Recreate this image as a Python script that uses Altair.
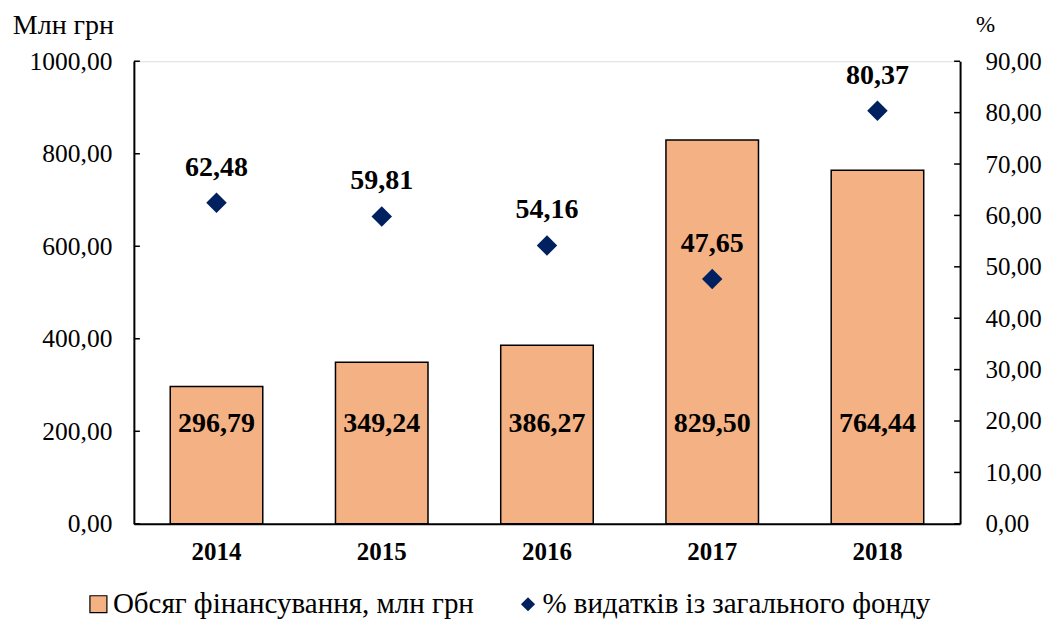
import altair as alt
import pandas as pd

years = ["2014", "2015", "2016", "2017", "2018"]
funding = [296.79, 349.24, 386.27, 829.50, 764.44]
share = [62.48, 59.81, 54.16, 47.65, 80.37]
left_ticks = [0, 200, 400, 600, 800, 1000]
right_ticks = [0, 10, 20, 30, 40, 50, 60, 70, 80, 90]

bar_name = "Обсяг фінансування, млн грн"
pt_name = "% видатків із загального фонду"

df = pd.DataFrame({"year": years, "funding": funding, "share": share,
                   "s1": [bar_name] * 5, "s2": [pt_name] * 5})
df_lt = pd.DataFrame({"v": left_ticks})
df_rt = pd.DataFrame({"v": right_ticks})

FONT = "Times New Roman, Liberation Serif, DejaVu Serif, serif"
W, H = 827, 463
fmt = "replace(format(datum.value, '.2f'), '.', ',')"

x = alt.X("year:N", title=None,
          scale=alt.Scale(paddingInner=0.44, paddingOuter=0.22),
          axis=alt.Axis(labelAngle=0, labelFont=FONT, labelFontSize=25, labelFontWeight="bold",
                        labelColor="black", labelPadding=16, ticks=False,
                        domainColor="black", domainWidth=2))

yl_scale = alt.Scale(domain=[0, 1000], nice=False)
yr_scale = alt.Scale(domain=[0, 90], nice=False)

bars = alt.Chart(df).mark_bar(stroke="black", strokeWidth=1.5).encode(
    x=x,
    y=alt.Y("funding:Q", scale=yl_scale,
            axis=alt.Axis(title="Млн грн", titleAngle=0, titleX=-71, titleY=-28,
                          titleAlign="center", titleBaseline="alphabetic",
                          titleFont=FONT, titleFontSize=28, titleFontWeight="normal",
                          titleColor="black", values=left_ticks, labelExpr=fmt,
                          labelFont=FONT, labelFontSize=25.5, labelColor="black",
                          labelPadding=22, ticks=False, grid=False,
                          domainColor="black", domainWidth=2)),
    color=alt.Color("s1:N", scale=alt.Scale(domain=[bar_name], range=["#F4B183"]),
                    legend=alt.Legend(title=None, orient="none", legendX=-50, legendY=529,
                                      labelFont=FONT, labelFontSize=29, labelColor="black",
                                      labelLimit=0,
                                      symbolType="square", symbolSize=289,
                                      symbolStrokeColor="black", symbolStrokeWidth=1.2,
                                      labelOffset=0))
)

bar_text = alt.Chart(df).mark_text(font=FONT, fontSize=28, fontWeight="bold", color="black").encode(
    x=alt.X("year:N"),
    y=alt.datum(215),
    text=alt.Text("funding_lbl:N")
).transform_calculate(funding_lbl="replace(format(datum.funding, '.2f'), '.', ',')")

lt = alt.Chart(df_lt).mark_rule(color="black", strokeWidth=1.5).encode(
    y=alt.Y("v:Q"), x=alt.value(0), x2=alt.value(6))

left = alt.layer(bars, bar_text, lt)

points = alt.Chart(df).mark_point(shape="diamond", filled=True, size=420, opacity=1).encode(
    x=alt.X("year:N"),
    y=alt.Y("share:Q", scale=yr_scale,
            axis=alt.Axis(orient="right", title="%", titleAngle=0, titleX=25, titleY=-30,
                          titleAlign="center", titleBaseline="alphabetic",
                          titleFont=FONT, titleFontSize=23, titleFontWeight="normal",
                          titleColor="black", values=right_ticks, labelExpr=fmt,
                          labelFont=FONT, labelFontSize=25, labelColor="black",
                          labelPadding=25, ticks=False, grid=False,
                          domainColor="black", domainWidth=2)),
    color=alt.Color("s2:N", scale=alt.Scale(domain=[pt_name], range=["#002060"]),
                    legend=alt.Legend(title=None, orient="none", legendX=380, legendY=529,
                                      labelFont=FONT, labelFontSize=29, labelColor="black",
                                      labelLimit=0,
                                      symbolType="diamond", symbolSize=200,
                                      labelOffset=0))
)

pt_text = alt.Chart(df).mark_text(font=FONT, fontSize=28, fontWeight="bold", color="black",
                                  dy=-35).encode(
    x=alt.X("year:N"),
    y=alt.Y("share:Q"),
    text=alt.Text("share_lbl:N")
).transform_calculate(share_lbl="replace(format(datum.share, '.2f'), '.', ',')")

rt = alt.Chart(df_rt).mark_rule(color="black", strokeWidth=1.5).encode(
    y=alt.Y("v:Q"), x=alt.value(W - 6), x2=alt.value(W))

right = alt.layer(points, pt_text, rt)

chart = alt.layer(left, right).resolve_scale(y="independent", color="independent").properties(
    width=W, height=H, padding={"left": 4, "top": 3, "right": 0, "bottom": 0}
).configure_view(stroke=None).configure(background="white")

chart.save("out.html", embed_options={"renderer": "svg", "actions": False})
